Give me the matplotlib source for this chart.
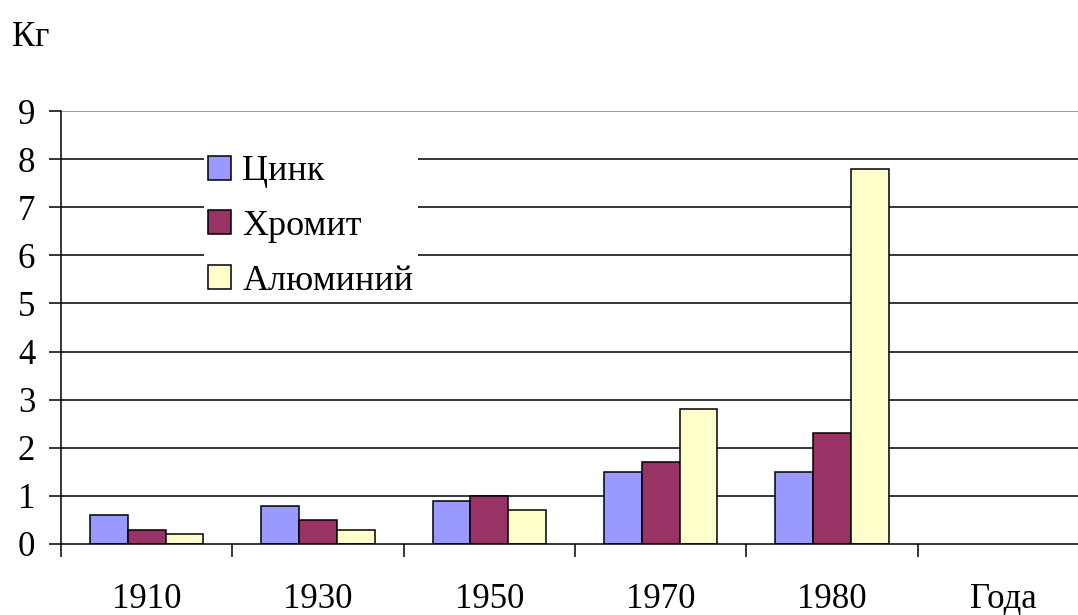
import matplotlib
matplotlib.use('Agg')
import matplotlib.pyplot as plt
import numpy as np
from matplotlib.patches import Patch

plt.rcParams['font.family'] = ['Liberation Serif', 'DejaVu Serif']

categories = ['1910', '1930', '1950', '1970', '1980', 'Года']
zinc = [0.6, 0.8, 0.9, 1.5, 1.5]
chromite = [0.3, 0.5, 1.0, 1.7, 2.3]
aluminium = [0.2, 0.3, 0.7, 2.8, 7.8]
series_names = ['Цинк', 'Хромит', 'Алюминий']
colors = ['#9999FF', '#993366', '#FFFFCC']
yticks = np.arange(0, 10, 1)

W, H, DPI = 1078, 615, 100
fig = plt.figure(figsize=(W / DPI, H / DPI), dpi=DPI)
ax = fig.add_axes([61 / W, 1 - 544 / H, 1028 / W, 433 / H])

x = np.arange(len(zinc))
bw = 0.22
for i, (vals, c) in enumerate(zip([zinc, chromite, aluminium], colors)):
    ax.bar(x + (i - 1) * bw, vals, width=bw, color=c, edgecolor='black',
           linewidth=1.1, zorder=3)

# gridlines
for v in yticks[1:]:
    ax.axhline(v, color='#808080' if v == 9 else 'black', linewidth=1.1, zorder=1)

ax.set_xlim(-0.5, len(categories) - 0.5)
ax.set_ylim(0, 9)
ax.set_yticks(yticks)
ax.set_yticklabels([str(v) for v in yticks], fontsize=25)
ax.set_xticks(np.arange(len(categories)))
ax.set_xticklabels(categories, fontsize=25)
ax.set_xticks(np.arange(len(categories) + 1) - 0.5, minor=True)
ax.tick_params(axis='x', which='major', length=0, pad=28)
ax.tick_params(axis='x', which='minor', length=9, width=1.1, direction='out')
ax.tick_params(axis='y', length=8.6, width=1.1, direction='out', pad=10)

for s in ['top', 'right']:
    ax.spines[s].set_visible(False)
for s in ['left', 'bottom']:
    ax.spines[s].set_linewidth(1.1)
    ax.spines[s].set_zorder(4)

handles = [Patch(facecolor=c, edgecolor='black', linewidth=1.1) for c in colors]
leg = fig.legend(handles, series_names, loc='upper left',
                 bbox_to_anchor=(204 / W, 1 - 151 / H), borderaxespad=0,
                 fontsize=26, frameon=True, fancybox=False, framealpha=1,
                 edgecolor='none', facecolor='white', borderpad=0.12,
                 handlelength=0.64, handleheight=0.64, handletextpad=0.3,
                 labelspacing=0.6)

fig.text(12 / W, 1 - 37 / H, 'Кг', fontsize=25, va='center', ha='left')

plt.savefig('out.png', dpi=DPI)
